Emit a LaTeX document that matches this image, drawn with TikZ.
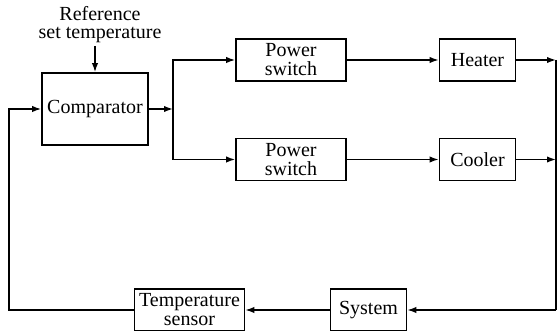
\documentclass[tikz,border=0pt]{standalone}
\usepackage{fontspec}
\setmainfont{Liberation Serif}
\usetikzlibrary{arrows.meta}
\begin{document}
\begin{tikzpicture}[x=0.5pt,y=-0.5pt,>={Latex[length=4.5pt,width=3.2pt]},line width=0.8pt]
  \tikzstyle{block}=[draw,inner sep=1pt,align=center,font=\fontsize{10}{9.5}\selectfont]
  \tikzstyle{lab}=[align=center,inner sep=1pt,font=\fontsize{10}{9}\selectfont]
  \tikzstyle{wide}=[minimum width=55pt,minimum height=21pt]
  \tikzstyle{narrow}=[minimum width=38pt,minimum height=21pt]
  \useasboundingbox (0,0) rectangle (557,331) ;

  \node [block,minimum width=53pt,minimum height=36pt] (comp) at (95,109) {Comparator} ;
  \node [lab] (ref) at (100,25) {Reference\\set temperature} ;
  \node [block,wide] (sw1) at (291,60) {Power\\switch} ;
  \node [block,wide] (sw2) at (291,159.5) {Power\\switch} ;
  \node [block,narrow] (heat) at (477.5,60) {Heater} ;
  \node [block,narrow] (cool) at (477.5,159.5) {Cooler} ;
  \node [block,narrow] (sys) at (368.5,310) {System} ;
  \node [block,wide] (sens) at (189.5,310) {Temperature\\sensor} ;

  \coordinate (split) at (173,109) ;
  \coordinate (hout) at (556,60) ;
  \coordinate (cout) at (556,159.5) ;
  \coordinate (sout) at (556,310) ;
  \coordinate (fb) at (9,310) ;

  \path [->,draw] (ref.south -| comp.north) -- (comp) ;
  \path [->,draw] (comp) -- (split) ;
  \draw [->] (split) |- (sw1) ;
  \draw [->] (split) |- (sw2) ;
  \path [->,draw] (sw1) edge (heat) ;
  \path [->,draw] (sw2) edge (cool) ;
  \path [->,draw] (heat) edge (hout) ;
  \path [->,draw] (cool) edge (cout) ;
  \draw (hout) -- (sout) ;
  \path [->,draw] (sout) -- (sys) ;
  \path [->,draw] (sys) -- (sens) ;
  \draw [->] (sens) -- (fb) |- (comp) ;

\end{tikzpicture}
\end{document}
